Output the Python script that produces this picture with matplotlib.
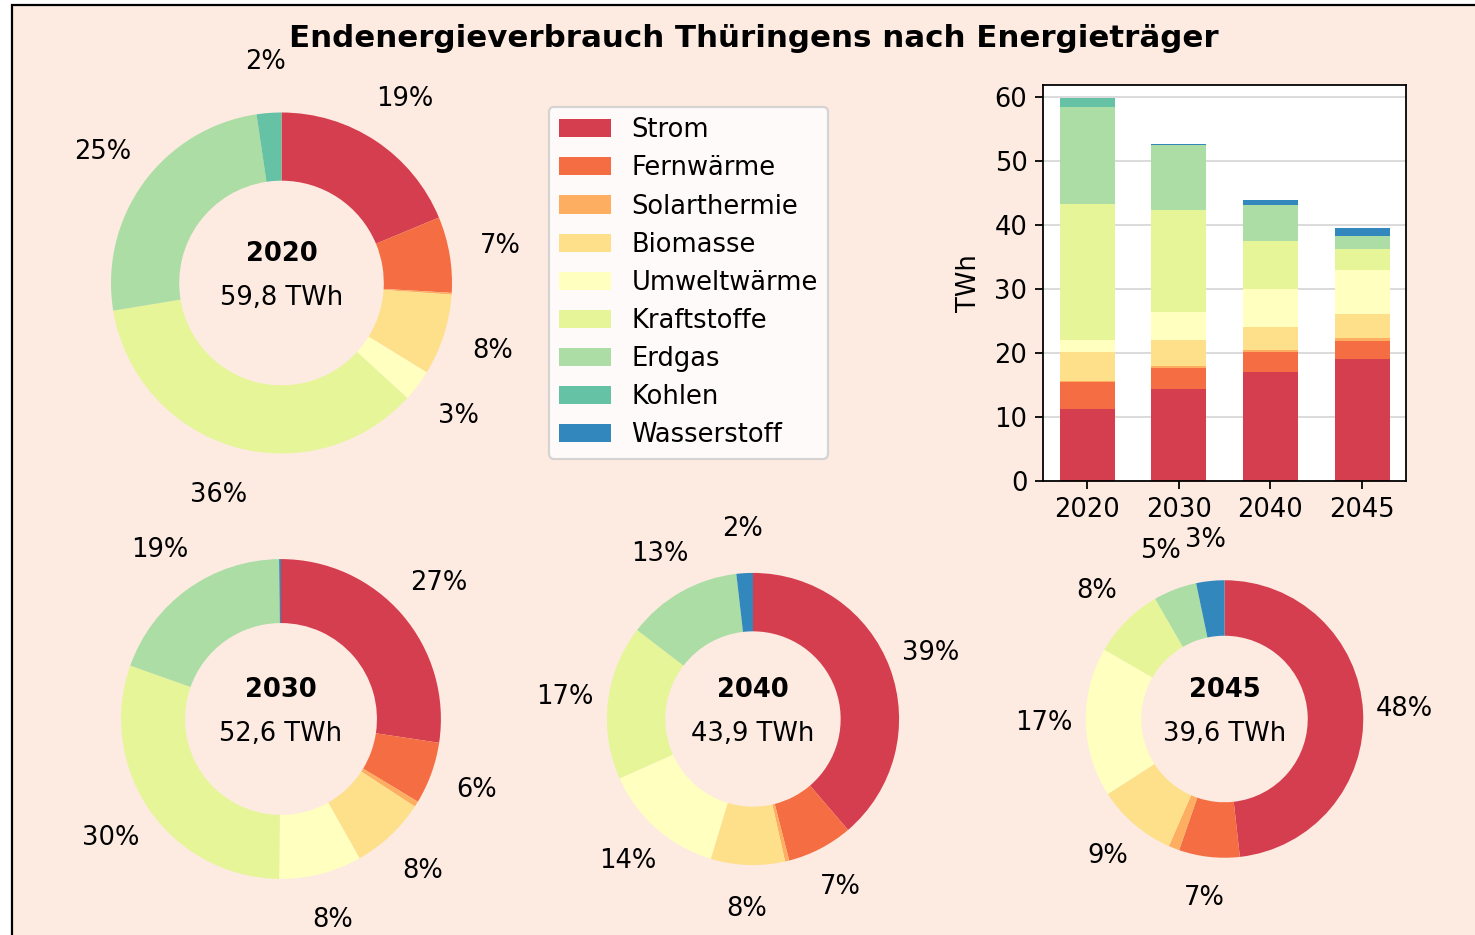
import numpy as np
import matplotlib
matplotlib.use("Agg")
import matplotlib.pyplot as plt
from matplotlib.patches import Rectangle

categories = ['Strom', 'Fernwärme', 'Solarthermie', 'Biomasse', 'Umweltwärme',
              'Kraftstoffe', 'Erdgas', 'Kohlen', 'Wasserstoff']
years = ['2020', '2030', '2040', '2045']
v2020 = [11.2, 4.3, 0.1, 4.6, 1.8, 21.3, 15.1, 1.4, 0.0]
v2030 = [14.4, 3.3, 0.3, 4.0, 4.4, 15.9, 10.2, 0.0, 0.1]
v2040 = [17.0, 3.2, 0.2, 3.6, 6.0, 7.5, 5.6, 0.0, 0.8]
v2045 = [19.1, 2.8, 0.5, 3.7, 6.9, 3.3, 2.0, 0.0, 1.3]
title = 'Endenergieverbrauch Thüringens nach Energieträger'

colors = ['#d53e4f', '#f46d43', '#fdae61', '#fee08b', '#ffffbf',
          '#e6f598', '#abdda4', '#66c2a5', '#3288bd']
bg = '#fdebe2'

FS = 11.6
plt.rcParams['font.family'] = ['DejaVu Sans']
plt.rcParams['font.size'] = FS

W, H = 1475, 935
DPI = 160
fig = plt.figure(figsize=(W / DPI, H / DPI), dpi=DPI, facecolor='white')

# background frame (cropped figure look)
fig.patches.append(Rectangle((11.5 / W, -0.1), 1.2, 1 - 5.5 / H + 0.1,
                             transform=fig.transFigure, facecolor=bg,
                             edgecolor='black', linewidth=1.0, zorder=-10))

fig.text(753.5 / W, 1 - 38.5 / H, title, ha='center', va='center',
         fontsize=13.9, fontweight='bold')

data = [v2020, v2030, v2040, v2045]
totals = [sum(v) for v in data]
tmax = max(totals)
centers = [(281.5, 283), (281, 719), (753, 719), (1224.5, 719)]
R = 170.5  # px for radius 1

for vals, yr, tot, (cx, cy) in zip(data, years, totals, centers):
    ax = fig.add_axes([(cx - R) / W, 1 - (cy + R) / H, 2 * R / W, 2 * R / H])
    r = np.sqrt(tot / tmax)
    ax.pie(vals, colors=colors, startangle=90, counterclock=False, radius=r,
           wedgeprops=dict(width=0.4 * r),
           autopct=lambda p: f'{p:.0f}%' if p >= 1.5 else '',
           pctdistance=1.3, textprops=dict(fontsize=FS))
    ax.set_xlim(-1, 1)
    ax.set_ylim(-1, 1)
    ax.set_aspect('equal')
    ax.axis('off')
    ax.text(0, 0.171, yr, ha='center', va='center', fontsize=FS, fontweight='bold')
    ax.text(0, -0.088, f'{tot:.1f}'.replace('.', ',') + ' TWh',
            ha='center', va='center', fontsize=FS)

# stacked bar chart
axb = fig.add_axes([1043 / W, 1 - 481 / H, 363 / W, 396 / H])
axb.set_facecolor('white')
axb.set_axisbelow(True)
bottom = np.zeros(len(years))
handles = []
for i, cat in enumerate(categories):
    vals = np.array([d[i] for d in data])
    h = axb.bar(years, vals, width=0.6, bottom=bottom, color=colors[i], label=cat)
    handles.append(h)
    bottom += vals
axb.set_ylim(0, 61.9)
axb.set_yticks([0, 10, 20, 30, 40, 50, 60])
axb.yaxis.grid(True, color='#b0b0b0', alpha=0.5, linewidth=0.8)
axb.set_ylabel('TWh', labelpad=5.5)

fig.legend(handles=handles, labels=categories, loc='upper left',
           bbox_to_anchor=(549 / W, 1 - 107 / H), borderaxespad=0,
           fontsize=FS, labelspacing=0.47)

fig.savefig('out.png', dpi=DPI, facecolor=fig.get_facecolor())
